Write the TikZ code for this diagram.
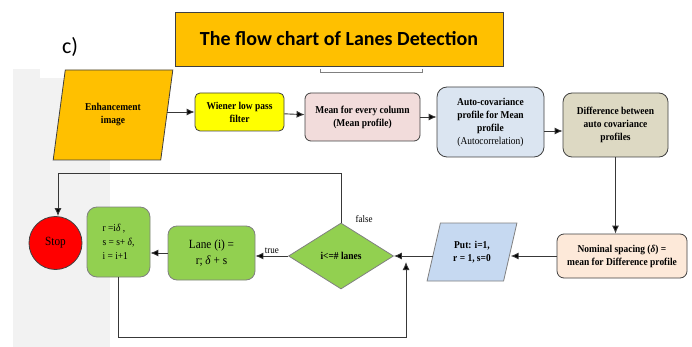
\documentclass[tikz,border=0pt]{standalone}
\usepackage{fontspec}
\setmainfont{Liberation Serif}
\newfontfamily\cserif[FakeStretch=0.9]{Liberation Serif}
\newfontfamily\calib{Carlito}
\usetikzlibrary{shapes.geometric,arrows.meta}
\definecolor{gold}{HTML}{FFC000}
\definecolor{yel}{HTML}{FFFF00}
\definecolor{pinkb}{HTML}{F2DCDB}
\definecolor{blueb}{HTML}{DBE5F1}
\definecolor{oliveb}{HTML}{DDD9C3}
\definecolor{peach}{HTML}{FDE9D9}
\definecolor{putb}{HTML}{C6D9F1}
\definecolor{grn}{HTML}{92D050}
\definecolor{bgray}{HTML}{F2F2F2}
\definecolor{edge}{HTML}{404040}
\definecolor{linec}{HTML}{383838}
\tikzset{
  box/.style={draw=edge, line width=0.8pt, rounded corners=#1, align=center, inner sep=2pt,
    font=\cserif\bfseries\fontsize{10.5}{13}\selectfont},
  box/.default=6pt,
  para/.style={trapezium, draw=edge, line width=0.8pt, trapezium stretches=true, align=center,
    inner sep=0pt, font=\cserif\bfseries\fontsize{10.5}{13}\selectfont},
  arr/.style={draw=linec, line width=0.9pt, -{Latex[length=8pt,width=7pt,fill=black]}},
  lbl/.style={font=\cserif\fontsize{10}{11}\selectfont, inner sep=1pt}
}
\begin{document}
\begin{tikzpicture}[x=1pt,y=-1pt]
\useasboundingbox (0,0) rectangle (692,347);
% gray band
\fill[bgray] (13,69) rectangle (110,347);
\fill[white] (40,69) rectangle (114,78);
% title
\node[draw=edge, line width=0.8pt, fill=gold, minimum width=328pt, minimum height=54pt,
  font=\calib\bfseries\fontsize{20}{22}\selectfont] (title) at (339,39) {The flow chart of Lanes Detection};
\node[font=\calib\fontsize{22}{24}\selectfont] (lab) at (70,47) {c)};
\draw[draw=gray, line width=0.9pt] (title.south -| 320,0) ++(0,3) -- ++(0,3) -- ++(102,0) -- ++(0,-3);
% top row
\node[para, fill=gold, trapezium left angle=72.7, trapezium right angle=107.3,
  minimum width=120pt, minimum height=90pt] (enh) at (113,115) {Enhancement\\image};
\node[box=5pt, fill=yel, minimum width=89pt, minimum height=38pt] (wien) at (239.5,112) {Wiener low pass\\filter};
\node[box=6pt, fill=pinkb, minimum width=115pt, minimum height=48pt] (mean) at (362.5,117) {Mean for every column\\(Mean profile)};
\node[box=10pt, fill=blueb, minimum width=107pt, minimum height=70pt] (auto) at (490.5,122)
  {Auto-covariance\\profile for Mean\\profile\\{\mdseries(Autocorrelation)}};
\node[box=9pt, fill=oliveb, minimum width=105pt, minimum height=64pt] (diff) at (615.5,125)
  {Difference between\\auto covariance\\profiles};
% bottom row
\node[box=7pt, fill=peach, minimum width=130pt, minimum height=44pt] (nom) at (622,256)
  {Nominal spacing (\textit{δ}) =\\mean for Difference profile};
\node[para, fill=putb, draw=gray, trapezium left angle=70.1, trapezium right angle=109.9,
  minimum width=90pt, minimum height=58pt] (put) at (472,252) {Put: i=1,\\r = 1, s=0};
\node[diamond, draw=gray, line width=0.8pt, fill=grn, minimum width=105pt, minimum height=66pt,
  aspect=1.6, inner sep=0pt, font=\cserif\bfseries\fontsize{10.5}{12}\selectfont] (dia) at (341,256) {i<=\# lanes};
\node[box=9pt, draw=gray, fill=grn, minimum width=87pt, minimum height=54pt,
  font=\cserif\fontsize{12.5}{16}\selectfont] (lane) at (211.5,253) {Lane (i) =\\r; \textit{δ} + s};
\node[box=10pt, draw=gray, fill=grn, minimum width=63pt, minimum height=70pt, align=left,
  font=\cserif\fontsize{10.5}{14}\selectfont] (rbox) at (118.5,242) {r =i\textit{δ} ,\\s = s+ \textit{δ},\\i = i+1};
\node[circle, draw=edge, line width=0.8pt, fill=red, minimum size=53pt, inner sep=0pt,
  font=\cserif\fontsize{12.5}{13}\selectfont] (stop) at (55.5,243) {Stop};
% connectors
\draw[arr] (enh.east |- wien) -- (wien);
\draw[arr] (wien) -- (mean);
\draw[arr] (mean) -- (mean -| auto.west);
\draw[arr] ([yshift=-9pt]auto.east) -- ([yshift=-9pt]auto.east -| diff.west);
\draw[arr] (diff.south) -- (diff.south |- nom.north);
\draw[arr] (nom.west) -- (nom.west -| put.east);
\draw[arr] (put.west |- dia) -- (dia);
\draw[arr] (dia) -- node[lbl, above=1pt, pos=0.5] (ltrue) {true} (dia -| lane.east);
\draw[arr] (lane.west) -- (lane.west -| rbox.east);
\coordinate (lb) at (406,337);
\coordinate (lt) at (406,262);
\draw[arr] (rbox.south) |- (lb) -- (lt);
\coordinate (ft) at (58,173);
\draw[arr] (dia.north) |- (ft) -- (ft |- stop.north);
\node[lbl] (lfalse) at (364,219) {false};
\end{tikzpicture}
\end{document}
